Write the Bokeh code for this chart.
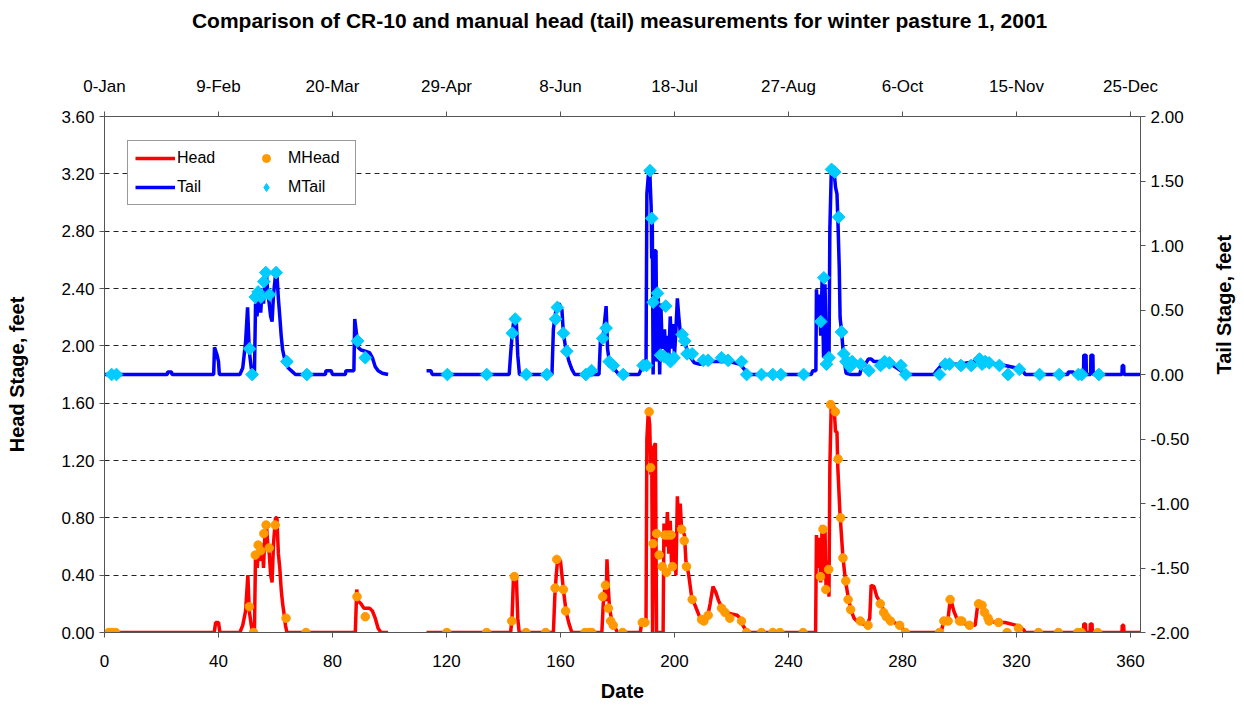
import math
from bokeh.plotting import figure
from bokeh.models import (Range1d, LinearAxis, FixedTicker, PrintfTickFormatter,
                          Legend, LegendItem, Title)
from bokeh.embed import file_html
from bokeh.resources import INLINE

NAN = float("nan")

# ---- data (day of year, stage in feet) ----
HEAD_DAY = [0, 38.5, 39, 40, 40.5, 47.5, 48.5, 49.5, 50.3, 50.8, 51.5, 52.0, 52.6, 53.0, 53.6, 54.2,
            54.8, 55.3, 55.8, 56.3, 56.8, 57.3, 57.8, 58.3, 58.8, 59.3, 60.0, 60.5, 61.0, 61.5, 62.0,
            62.5, 63.0, 63.5, 64.0, 88.0, 88.5, 89.0, 90.0, 91.0, 93.0, 94.0, 95.0, 96.0, 97.0, 99.5,
            NAN,
            113, 142.5, 143.0, 143.5, 144.5, 145.0, 145.5, 157.5, 158.0, 158.5, 159.0, 160.0, 160.5,
            161.0, 161.5, 162.0, 163.0, 164.0, 174.5, 175.0, 175.5, 176.0, 176.3, 176.8, 177.2, 178.0,
            179.0, 180.0, 188.0, 188.5, 190.0, 190.3, 190.8, 191.3, 191.7, 192.0, 192.3, 192.8, 193.3,
            193.7, 196.0, 196.3, 197.0, 197.5, 198.0, 198.5, 199.0, 199.5, 200.0, 200.5, 201.0, 201.5,
            202.0, 202.5, 203.5, 204.0, 205.0, 206.0, 207.0, 208.0, 209.0, 210.5, 211.5, 212.5, 213.5,
            214.5, 215.5, 216.5, 218.0, 220.0, 222.0, 223.0, 224.0, 225.5, 249.5, 249.8, 250.3, 250.8,
            251.3, 251.8, 252.3, 252.8, 253.2, 253.7, 254.2, 254.5, 255.0, 256.0, 256.5, 257.0, 257.3,
            258.0, 258.5, 259.0, 259.5, 260.0, 261.0, 262.0, 263.0, 264.0, 266.0, 267.5, 268.5, 269.0,
            270.0, 271.0, 272.5, 274.0, 276.0, 278.0, 280.0, 281.0, 293.5, 294.5, 296.0, 296.8, 298.0,
            299.0, 301.0, 303.0, 305.5, 306.5, 307.5, 309.0, 310.5, 313.0, 316.0, 320.0, 322.5, 323.0,
            340.0, 341.0, 343.5, 343.6, 344.2, 344.3, 345.8, 345.9, 346.5, 346.6, 357.0, 357.1, 357.6,
            357.7, 363.5]
HEAD_VAL = [0, 0, 0.07, 0.07, 0, 0, 0.05, 0.15, 0.40, 0.15, 0.05, 0, 0, 0.55, 0.45, 0.62,
            0.50, 0.62, 0.45, 0.70, 0.75, 0.62, 0.55, 0.40, 0.35, 0.62, 0.80, 0.80, 0.55, 0.45, 0.30,
            0.20, 0.13, 0.05, 0, 0, 0.30, 0.22, 0.20, 0.17, 0.17, 0.15, 0.10, 0.03, 0, 0,
            NAN,
            0, 0, 0.10, 0.39, 0.39, 0.10, 0, 0, 0.25, 0.40, 0.51, 0.50, 0.40,
            0.30, 0.22, 0.14, 0.06, 0, 0, 0.20, 0.30, 0.22, 0.51, 0.30, 0.17, 0.08,
            0.04, 0, 0, 0.07, 0.07, 1.35, 1.54, 1.45, 1.10, 1.30, 0, 1.30, 1.32,
            0, 0, 0.76, 0.60, 0.84, 0.55, 0.78, 0.45, 0.70, 0.60, 0.40, 0.95, 0.75,
            0.90, 0.72, 0.68, 0.50, 0.40, 0.25, 0.20, 0.15, 0.10, 0.07, 0.10, 0.20, 0.32,
            0.28, 0.22, 0.18, 0.14, 0.13, 0.12, 0.10, 0.05, 0, 0, 0.68, 0.45, 0.66,
            0.35, 0.75, 0.40, 0.72, 0.28, 0.50, 0.25, 1.15, 1.60, 1.57, 1.40, 1.40, 1.15,
            0.85, 0.70, 0.55, 0.45, 0.36, 0.24, 0.15, 0.10, 0.08, 0.06, 0.05, 0.10, 0.33,
            0.32, 0.25, 0.20, 0.12, 0.08, 0.06, 0.03, 0, 0, 0.08, 0.10, 0.24, 0.15,
            0.10, 0.07, 0.05, 0.05, 0.21, 0.20, 0.12, 0.08, 0.07, 0.07, 0.05, 0.02, 0,
            0, 0.01, 0, 0.06, 0.06, 0, 0, 0.06, 0.06, 0, 0, 0.05, 0.05,
            0, 0]

TAIL_DAY = [0, 22, 22.2, 23.5, 23.7, 38.3, 38.6, 39.5, 40.0, 40.3, 47.5, 48.5, 49.5, 50.2, 50.8,
            51.5, 52.0, 52.6, 53.0, 53.5, 54.2, 54.8, 55.3, 55.8, 56.3, 56.8, 57.3, 57.8, 58.3, 58.8,
            59.3, 60.0, 60.5, 61.0, 61.5, 62.0, 62.5, 63.5, 64.5, 66.0, 67.0, 77.5, 77.7, 79.5, 80.0,
            84.5, 84.7, 87.5, 87.8, 88.5, 89.0, 90.0, 91.5, 93.0, 94.0, 95.0, 96.0, 97.5, 99.5,
            NAN,
            113, 114.5, 115, 142.0, 142.5, 143.0, 143.5, 144.5, 145.0, 145.6, 157.0, 157.5, 158.5,
            159.5, 160.5, 161.0, 161.5, 162.0, 163.0, 164.0, 165.0, 173.5, 174.0, 175.0, 176.0, 176.5,
            177.0, 178.0, 179.0, 180.5, 187.5, 188.5, 190.0, 190.3, 190.8, 191.3, 191.8, 192.0, 192.2,
            192.5, 193.0, 193.5, 193.8, 194.3, 194.8, 195.2, 195.7, 196.5, 197.0, 197.5, 198.0, 198.5,
            199.0, 199.5, 200.0, 200.5, 201.0, 201.5, 202.0, 203.0, 204.0, 205.0, 206.0, 207.0, 209.0,
            211.0, 213.0, 216.0, 219.0, 221.0, 223.0, 224.5, 226.0, 248.0, 248.5, 249.6, 249.8, 250.3,
            250.8, 251.3, 251.8, 252.3, 252.8, 253.3, 253.8, 254.2, 254.5, 255.0, 256.0, 256.5, 257.0,
            257.3, 257.8, 258.1, 258.6, 259.2, 259.8, 260.2, 262.0, 265.0, 265.5, 267.0, 268.0, 269.0,
            270.0, 272.0, 274.0, 276.0, 278.0, 280.0, 281.0, 291.0, 292.0, 294.0, 300.0, 305.0, 307.0,
            310.0, 316.0, 320.0, 322.5, 323.0, 338.0, 338.2, 340.0, 340.2, 343.5, 343.6, 344.4, 344.5,
            346.0, 346.1, 346.8, 346.9, 357.0, 357.1, 357.6, 357.7, 363.5]
TAIL_VAL = [0, 0, 0.02, 0.02, 0, 0, 0.21, 0.15, 0.10, 0, 0, 0.05, 0.25, 0.52, 0.18,
            0.05, 0, 0, 0.55, 0.45, 0.63, 0.48, 0.65, 0.55, 0.72, 0.79, 0.62, 0.55, 0.45, 0.41,
            0.62, 0.77, 0.78, 0.59, 0.45, 0.30, 0.19, 0.09, 0.05, 0.02, 0, 0, 0.03, 0.03, 0,
            0, 0.03, 0.03, 0.43, 0.30, 0.21, 0.19, 0.18, 0.17, 0.13, 0.06, 0.03, 0.01, 0,
            NAN,
            0.03, 0.03, 0, 0, 0.16, 0.30, 0.40, 0.40, 0.15, 0, 0, 0.35, 0.52,
            0.55, 0.50, 0.32, 0.25, 0.18, 0.10, 0.04, 0, 0, 0.26, 0.30, 0.53, 0.20,
            0.12, 0.08, 0.04, 0, 0, 0.05, 0.07, 1.40, 1.54, 1.58, 1.30, 0.90, 1.20,
            0, 0.96, 0.96, 0.10, 0.60, 0, 0.55, 0.20, 0.35, 0.10, 0.30, 0.13, 0.45,
            0.20, 0.39, 0.15, 0.35, 0.59, 0.45, 0.33, 0.30, 0.22, 0.15, 0.12, 0.09, 0.08,
            0.09, 0.10, 0.10, 0.10, 0.09, 0.08, 0.04, 0, 0, 0.03, 0.03, 0.66, 0.40,
            0.62, 0.30, 0.74, 0.13, 0.70, 0.13, 0.15, 0.09, 1.12, 1.57, 1.57, 1.45, 1.40,
            1.22, 0.83, 0.44, 0.34, 0.17, 0.07, 0.01, 0, 0, 0.05, 0.08, 0.12, 0.12,
            0.10, 0.10, 0.10, 0.08, 0.05, 0.02, 0, 0, 0.03, 0.08, 0.08, 0.10, 0.12,
            0.09, 0.07, 0.05, 0.02, 0, 0, 0.02, 0.02, 0, 0, 0.15, 0.15, 0,
            0, 0.15, 0.15, 0, 0, 0.07, 0.07, 0, 0]

MHEAD_DAY = [1.5, 2.5, 3.9, 50.8, 52.3, 52.9, 53.9, 54.8, 55.9, 56.7, 57.8, 59.9, 63.7, 70.7,
             88.6, 91.5, 120.1, 134.1, 142.9, 143.8, 147.9, 154.8, 158.1, 158.7, 161.0, 161.8,
             168.6, 170.1, 171.0, 174.8, 175.8, 176.8, 177.6, 178.5, 181.8, 188.7, 189.6, 191.1,
             191.6, 192.5, 193.7, 194.6, 195.7, 196.6, 197.8, 198.8, 197.2, 199.3, 202.5, 203.4,
             204.2, 206.2, 209.5, 210.3, 211.8, 216.5, 217.7, 219.4, 223.5, 225.3, 230.5, 234.5,
             237.0, 245.1, 251.2, 252.1, 253.1, 254.1, 254.8, 256.4, 257.4, 258.3, 259.1, 260.1,
             260.9, 261.8, 265.2, 267.9, 272.2, 273.4, 274.3, 275.8, 279.0, 281.0, 293.0, 294.5,
             296.0, 296.7, 300.0, 300.8, 303.5, 306.7, 307.9, 308.8, 310.0, 310.4, 313.7, 316.7,
             320.7, 327.7, 334.7, 341.5, 342.7, 348.5]
MHEAD_VAL = [0, 0, 0, 0.18, 0, 0.54, 0.61, 0.57, 0.69, 0.75, 0.59, 0.75, 0.10, 0,
             0.25, 0.11, 0, 0, 0.08, 0.39, 0, 0, 0.31, 0.51, 0.30, 0.15,
             0, 0, 0, 0.25, 0.33, 0.17, 0.08, 0.05, 0, 0.07, 0.07, 1.54,
             1.15, 0.62, 0.69, 0.54, 0.46, 0.68, 0.68, 0.68, 0.42, 0.46, 0.72, 0.64,
             0.46, 0.23, 0.09, 0.08, 0.12, 0.17, 0.14, 0.10, 0.08, 0, 0, 0,
             0, 0, 0.39, 0.72, 0.30, 0.44, 1.59, 1.54, 1.21, 0.80, 0.52, 0.36,
             0.23, 0.16, 0.08, 0.05, 0.20, 0.14, 0.11, 0.08, 0.05, 0, 0, 0.08,
             0.08, 0.23, 0.08, 0.08, 0.05, 0.20, 0.19, 0.14, 0.10, 0.08, 0.07, 0,
             0.03, 0, 0, 0, 0, 0]

MTAIL_DAY = [2.5, 4.2, 50.9, 51.8, 52.9, 53.9, 54.9, 55.9, 56.6, 57.9, 60.2, 64.0, 71.0, 88.8,
             91.5, 120.3, 134.1, 143.1, 144.1, 148.0, 155.2, 158.3, 158.9, 161.0, 162.2, 168.9,
             170.9, 174.8, 176.0, 177.1, 178.5, 182.0, 189.0, 190.2, 191.4, 192.0, 192.5, 194.0,
             195.1, 196.9, 196.3, 197.8, 198.6, 199.8, 202.7, 203.6, 204.4, 206.2, 210.1, 211.8,
             216.5, 218.8, 223.5, 225.3, 230.5, 234.5, 237.3, 245.3, 251.3, 252.4, 253.3, 254.2,
             255.1, 256.2, 257.6, 258.6, 259.4, 260.2, 261.0, 261.5, 262.3, 265.3, 268.2, 272.3,
             273.7, 275.4, 279.4, 281.1, 293.0, 295.0, 296.5, 300.5, 304.1, 307.0, 307.9, 309.0,
             310.4, 314.0, 317.0, 321.0, 328.1, 335.0, 341.7, 342.9, 348.9]
MTAIL_VAL = [0, 0, 0.20, 0, 0.60, 0.64, 0.60, 0.72, 0.79, 0.62, 0.79, 0.10, 0, 0.26,
             0.13, 0, 0, 0.32, 0.43, 0, 0, 0.43, 0.52, 0.32, 0.18, 0,
             0.03, 0.28, 0.36, 0.10, 0.07, 0, 0.07, 0.07, 1.58, 1.21, 0.56, 0.63,
             0.15, 0.53, 0.14, 0.12, 0.10, 0.13, 0.31, 0.26, 0.16, 0.16, 0.11, 0.11,
             0.13, 0.11, 0.10, 0, 0, 0, 0, 0, 0.41, 0.75, 0.08, 0.13,
             1.59, 1.57, 1.22, 0.33, 0.16, 0.10, 0.09, 0.06, 0.10, 0.08, 0.03, 0.07,
             0.10, 0.09, 0.07, 0, 0, 0.08, 0.08, 0.07, 0.07, 0.12, 0.08, 0.10,
             0.09, 0.07, 0, 0.04, 0, 0, 0, 0, 0]

X_TICKS = [0, 40, 80, 120, 160, 200, 240, 280, 320, 360]
TOP_LABELS = ["0-Jan", "9-Feb", "20-Mar", "29-Apr", "8-Jun", "18-Jul", "27-Aug", "6-Oct",
              "15-Nov", "25-Dec"]
HEAD_TICKS = [0, 0.4, 0.8, 1.2, 1.6, 2.0, 2.4, 2.8, 3.2, 3.6]
TAIL_TICKS = [-2.0, -1.5, -1.0, -0.5, 0.0, 0.5, 1.0, 1.5, 2.0]

TITLE = "Comparison of CR-10 and manual head (tail) measurements  for winter pasture 1, 2001"

FONT = "Liberation Sans"

p = figure(frame_width=1036, frame_height=516,
           min_border_left=104, min_border_right=104, min_border_top=116, min_border_bottom=72,
           x_range=Range1d(0, 363.5), y_range=Range1d(0, 3.6),
           output_backend="svg", toolbar_location=None, title=TITLE,
           background_fill_color="white", border_fill_color="white")
p.extra_y_ranges = {"tail": Range1d(-2, 2)}
p.outline_line_color = None

p.title.align = "center"
p.title.text_font = FONT
p.title.text_font_style = "bold"
p.title.text_font_size = "21px"
p.title.text_color = "black"
p.title.standoff = 0

def style_axis(ax):
    ax.axis_line_color = "#555555"
    ax.major_tick_line_color = "#555555"
    ax.major_tick_out = 5
    ax.major_tick_in = 0
    ax.minor_tick_line_color = None
    ax.major_label_text_font = FONT
    ax.major_label_text_font_size = "17px"
    ax.major_label_text_color = "black"
    ax.axis_label_text_font = FONT
    ax.axis_label_text_font_style = "bold"
    ax.axis_label_text_font_size = "20px"
    ax.axis_label_text_color = "black"

xa = p.xaxis[0]
xa.ticker = FixedTicker(ticks=X_TICKS)
xa.axis_label = "Date"
xa.major_label_standoff = 17
xa.axis_label_standoff = 10
style_axis(xa)

ya = p.yaxis[0]
ya.ticker = FixedTicker(ticks=HEAD_TICKS)
ya.formatter = PrintfTickFormatter(format="%.2f")
ya.axis_label = "Head Stage, feet"
ya.major_label_standoff = 5
ya.axis_label_standoff = 30
style_axis(ya)

top = LinearAxis(ticker=FixedTicker(ticks=X_TICKS),
                 major_label_overrides={t: s for t, s in zip(X_TICKS, TOP_LABELS)})
top.major_label_standoff = 16
style_axis(top)
p.add_layout(top, "above")

# blank spacer between the top axis and the title
spacer = Title(text=" ", text_font=FONT, text_font_size="21px", standoff=17)
p.add_layout(spacer, "above")

right = LinearAxis(y_range_name="tail", ticker=FixedTicker(ticks=TAIL_TICKS),
                   formatter=PrintfTickFormatter(format="%.2f"), axis_label="Tail Stage, feet")
right.major_label_standoff = 5
right.axis_label_standoff = 32
style_axis(right)
if "axis_label_orientation" in right.properties():
    right.axis_label_orientation = math.pi / 2
p.add_layout(right, "right")

p.xgrid.grid_line_color = None
p.ygrid.ticker = FixedTicker(ticks=HEAD_TICKS)
p.ygrid.grid_line_color = "#222222"
p.ygrid.grid_line_dash = "5 4"
p.ygrid.grid_line_width = 1

r_head = p.line(HEAD_DAY, HEAD_VAL, line_color="#FF0000", line_width=3.5)
r_tail = p.line(TAIL_DAY, TAIL_VAL, line_color="#0000FF", line_width=3.5, y_range_name="tail")
r_mhead = p.scatter(MHEAD_DAY, MHEAD_VAL, marker="circle", size=8.5, fill_color="#FF9900",
                    line_color="#FF9900")
r_mtail = p.scatter(MTAIL_DAY, MTAIL_VAL, marker="square", angle=math.pi / 4, size=9,
                    fill_color="#00CCFF", line_color="#00CCFF", y_range_name="tail")
# legend swatch for the diamonds (a single undrawn NaN point)
r_mtail_key = p.scatter([NAN], [NAN], marker="diamond", size=15, fill_color="#00CCFF",
                        line_color="#00CCFF", y_range_name="tail")

legend = Legend(items=[LegendItem(label="Head", renderers=[r_head]),
                       LegendItem(label="Tail", renderers=[r_tail]),
                       LegendItem(label="MHead", renderers=[r_mhead]),
                       LegendItem(label="MTail", renderers=[r_mtail_key])],
                ncols=2, location=(23, 427),
                label_text_font=FONT, label_text_font_size="16px", label_text_color="black",
                glyph_width=40, glyph_height=20, label_standoff=2, label_width=60,
                spacing=9, padding=7, margin=0,
                border_line_color="#333333", border_line_width=1,
                background_fill_color="white", background_fill_alpha=1)
p.add_layout(legend)

open("out.html", "w").write(file_html(p, INLINE))
